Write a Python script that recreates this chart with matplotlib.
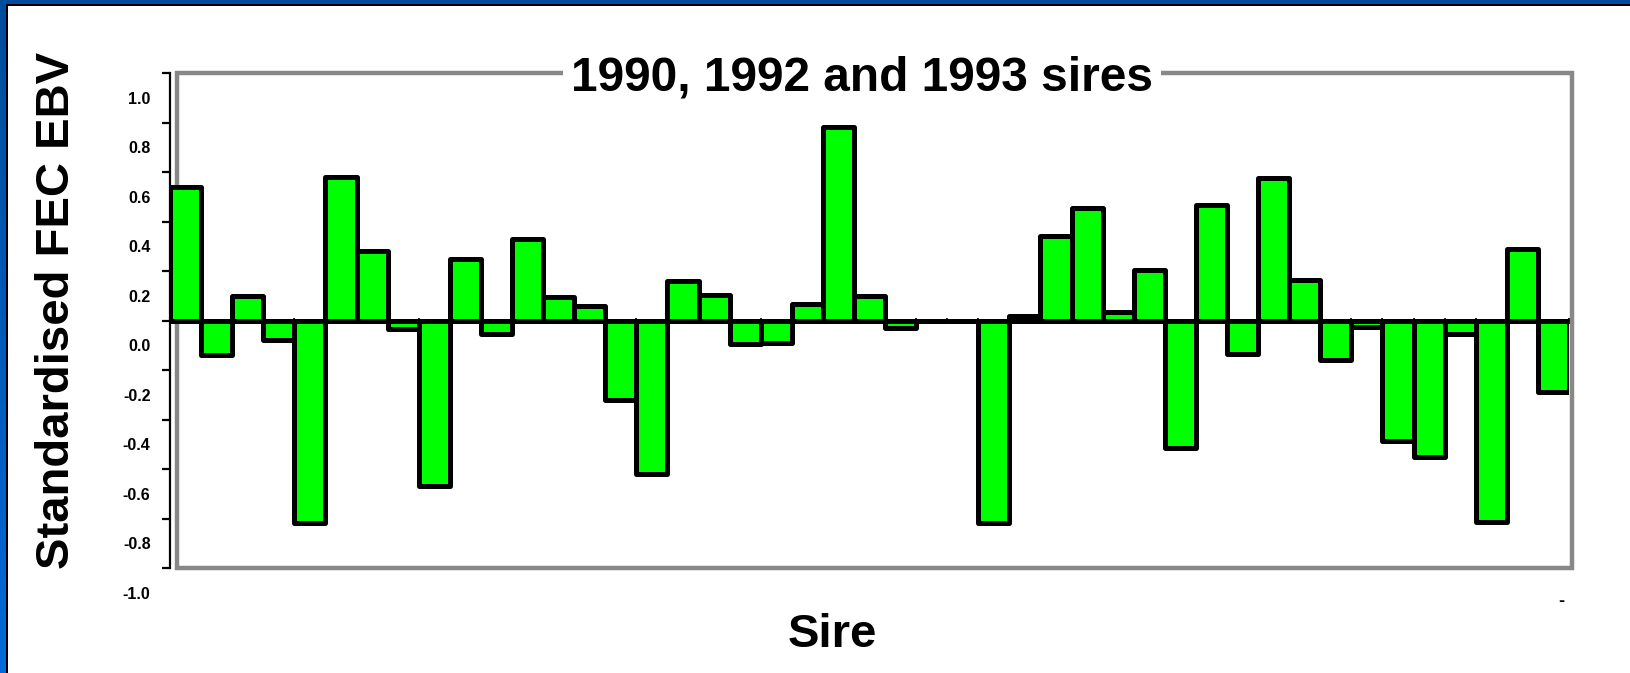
"""Standardised FEC EBV by sire (1990, 1992 and 1993 sires)."""
import numpy as np
import matplotlib
matplotlib.use("Agg")
import matplotlib.pyplot as plt
import matplotlib.transforms as mtransforms
from matplotlib.patches import Rectangle

plt.rcParams["font.family"] = ["Liberation Sans", "DejaVu Sans"]

# standardised FEC EBV per sire, left to right
ebv = [0.54, -0.14, 0.10, -0.08, -0.82, 0.58, 0.28, -0.035, -0.67, 0.25,
       -0.055, 0.33, 0.095, 0.06, -0.32, -0.62, 0.16, 0.105, -0.095, -0.09,
       0.065, 0.78, 0.10, -0.03, 0.0, 0.0, -0.82, 0.02, 0.34, 0.455,
       0.035, 0.205, -0.515, 0.465, -0.135, 0.575, 0.165, -0.16, -0.025, -0.485,
       -0.55, -0.055, -0.815, 0.29, -0.29]
ytick_vals = [1.0, 0.8, 0.6, 0.4, 0.2, 0.0, -0.2, -0.4, -0.6, -0.8, -1.0]
ytick_labels = ["1.0", "0.8", "0.6", "0.4", "0.2", "0.0", "-0.2", "-0.4", "-0.6", "-0.8", "-1.0"]

W, H = 1631, 673
fig = plt.figure(figsize=(W / 100, H / 100), dpi=100)
fig.patch.set_facecolor("white")

# blue slide border (left + top)
bax = fig.add_axes([0, 0, 6 / W, 1])
bax.imshow(np.linspace(0, 1, 100).reshape(-1, 1), cmap=matplotlib.colors.LinearSegmentedColormap.from_list(
    "b", ["#004c9c", "#006ad8"]), aspect="auto", extent=[0, 1, 0, 1])
bax.axis("off")
fig.add_artist(Rectangle((6 / W, 0), 2 / W, 1 - 4 / H, transform=fig.transFigure, color="black", lw=0))
fig.add_artist(Rectangle((0, 1 - 4 / H), 1, 4 / H, transform=fig.transFigure, color="#004c9c", lw=0))
fig.add_artist(Rectangle((6 / W, 1 - 6 / H), 1, 2 / H, transform=fig.transFigure, color="black", lw=0))

# grey plot-area frame
fig.add_artist(Rectangle((177 / W, 1 - 568 / H), (1572 - 177) / W, (568 - 73) / H,
                         transform=fig.transFigure, fill=False, ec="#888888", lw=3.2, zorder=0))

ax = fig.add_axes([170 / W, 1 - 568 / H, (1569 - 170) / W, (568 - 73) / H])
ax.patch.set_alpha(0)
x = np.arange(len(ebv))
ax.bar(x, ebv, width=1.0, color="#00ff00", edgecolor="black", linewidth=3.6,
       joinstyle="round", zorder=2)
ax.set_xlim(-0.5, len(ebv) - 0.5)
ax.set_ylim(-1.0, 1.0)

for s in ["top", "right"]:
    ax.spines[s].set_visible(False)
ax.spines["left"].set_linewidth(1.6)
ax.spines["bottom"].set_position(("data", 0))
ax.spines["bottom"].set_linewidth(1.2)
ax.spines["bottom"].set_zorder(3)

ax.set_xticks(np.arange(len(ebv) + 1) - 0.5)
ax.set_xticklabels([])
ax.tick_params(axis="x", direction="inout", length=4, width=1.2)

ax.set_yticks(ytick_vals)
ax.set_yticklabels(ytick_labels, fontsize=11.5, fontweight="bold")
ax.tick_params(axis="y", direction="out", length=6, width=1.6, pad=8)
# labels sit half a step below their tick, as in the original slide
offset = mtransforms.ScaledTranslation(0, -24.75 / 100, fig.dpi_scale_trans)
for lab in ax.get_yticklabels():
    lab.set_transform(lab.get_transform() + offset)

fig.text(862 / W, 1 - 78 / H, "1990, 1992 and 1993 sires", ha="center", va="center",
         fontsize=34.5, fontweight="bold",
         bbox=dict(facecolor="white", edgecolor="none", pad=6))
fig.text(57 / W, 1 - 310 / H, "Standardised FEC EBV", rotation=90, ha="center", va="center",
         fontsize=34, fontweight="bold")
fig.text(832 / W, 1 - 635 / H, "Sire", ha="center", va="center", fontsize=34, fontweight="bold")
fig.text(1561 / W, 1 - 601 / H, "-", ha="center", va="center", fontsize=13, fontweight="bold")

fig.savefig("out.png", dpi=100)
